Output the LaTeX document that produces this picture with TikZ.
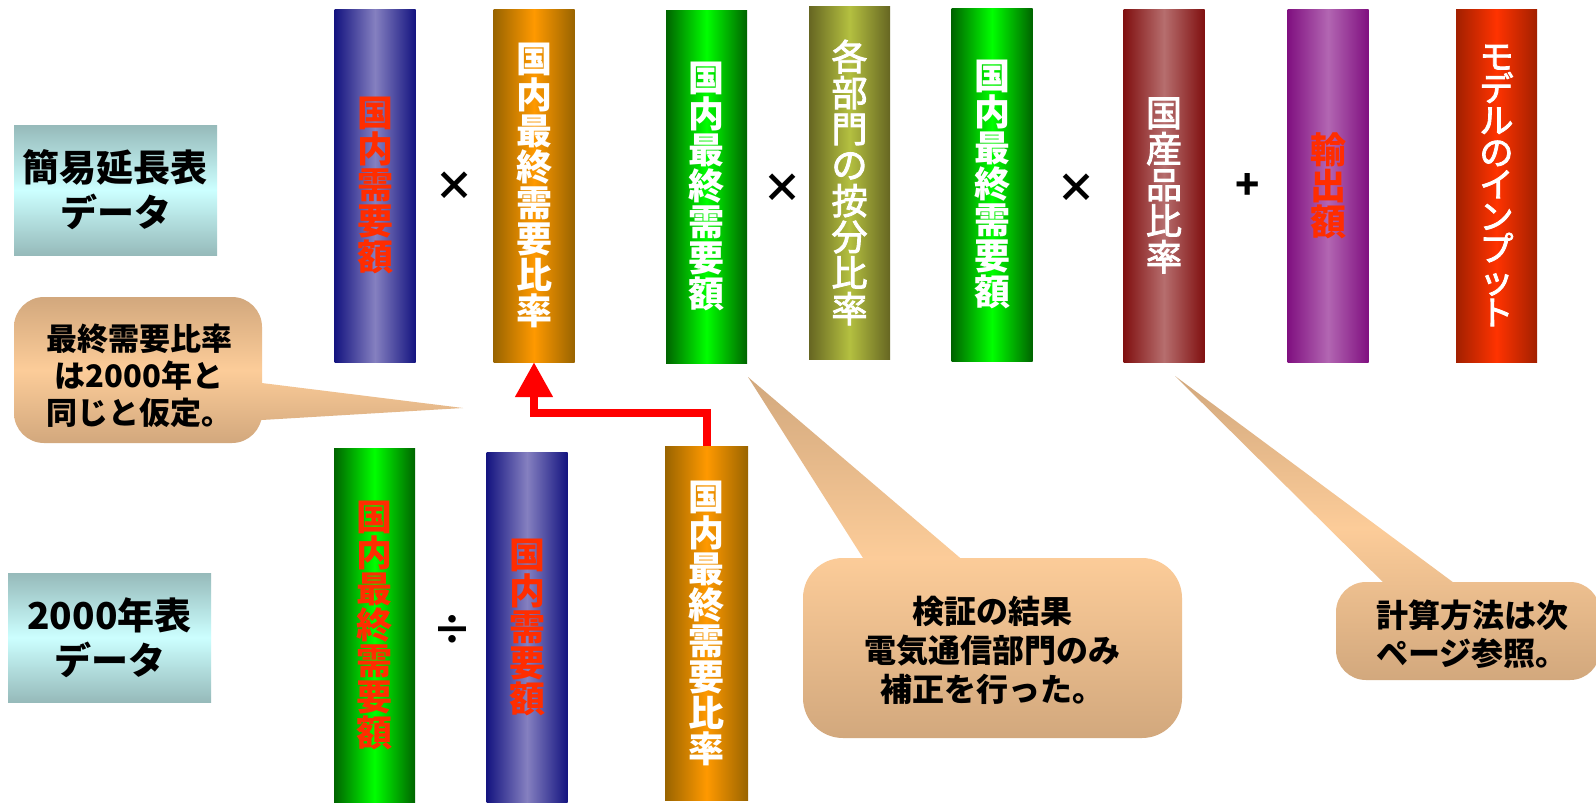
\documentclass[tikz,border=0pt]{standalone}
\usepackage{fontspec}
\newfontfamily\jp{Noto Sans CJK JP}
\newfontfamily\jpm{Noto Sans CJK JP}[FakeBold=2.5]
\usetikzlibrary{arrows.meta}
\definecolor{navyE}{RGB}{20,20,128}
\definecolor{navyC}{RGB}{133,128,192}
\definecolor{orgE}{RGB}{153,100,0}
\definecolor{orgC}{RGB}{255,153,0}
\definecolor{grnE}{RGB}{0,100,0}
\definecolor{grnC}{RGB}{0,255,0}
\definecolor{olvE}{RGB}{102,102,34}
\definecolor{olvC}{RGB}{180,192,64}
\definecolor{brnE}{RGB}{128,16,16}
\definecolor{brnC}{RGB}{182,110,110}
\definecolor{purE}{RGB}{128,16,128}
\definecolor{purC}{RGB}{178,102,178}
\definecolor{redE}{RGB}{162,32,0}
\definecolor{redC}{RGB}{255,51,0}
\definecolor{tealE}{RGB}{150,186,186}
\definecolor{tealC}{RGB}{204,255,255}
\definecolor{tanE}{RGB}{210,168,125}
\definecolor{tanC}{RGB}{252,204,153}
\definecolor{txtred}{RGB}{255,45,0}
\begin{document}
\begin{tikzpicture}[x=1pt,y=-1pt,
  col/.style={minimum width=81pt, minimum height=353pt, inner sep=0pt, align=center,
    font=\jp\bfseries\fontsize{36}{36}\selectfont, text=white},
  colmed/.style={font=\jpm\fontsize{36}{36}\selectfont},
  shblue/.style={left color=navyE, right color=navyE, middle color=navyC},
  shorange/.style={left color=orgE, right color=orgE, middle color=orgC},
  shgreen/.style={left color=grnE, right color=grnE, middle color=grnC},
  sholive/.style={left color=olvE, right color=olvE, middle color=olvC},
  shbrown/.style={left color=brnE, right color=brnE, middle color=brnC},
  shpurple/.style={left color=purE, right color=purE, middle color=purC},
  shred/.style={left color=redE, right color=redE, middle color=redC},
  databox/.style={minimum width=203pt, minimum height=130pt, inner sep=0pt, align=center,
    top color=tealE, bottom color=tealE, middle color=tealC,
    font=\jp\bfseries\fontsize{37}{45}\selectfont},
  opsym/.style={inner sep=0pt, font=\jp\bfseries\fontsize{40}{40}\selectfont},
  callout/.style={top color=tanE, bottom color=tanE, middle color=tanC},
  callouttext/.style={align=center, inner sep=0pt, font=\jp\bfseries\fontsize{32}{39}\selectfont},
  redarrow/.style={draw=red, line width=8pt, -{Triangle[width=36pt,length=35pt,fill=red]}}
]
\useasboundingbox (0,0) rectangle (1596,803);
\fill[white] (0,0) rectangle (1596,803);

% data boxes
\node[databox] (d1) at (115.5,190) {簡易延長表\\データ};
\node[databox, minimum height=129pt] (d2) at (109.5,637.5) {2000年表\\データ};

% top row columns
\node[col, shblue, text=txtred] (c1) at (375,185.5) {国\\内\\需\\要\\額};
\node[col, shorange] (c2) at (534,185.5) {国\\内\\最\\終\\需\\要\\比\\率};
\node[col, shgreen] (c3) at (706.5,186.5) {国\\内\\最\\終\\需\\要\\額};
\node[col, colmed, sholive] (c4) at (849.5,182.5) {各\\部\\門\\の\\按\\分\\比\\率};
\node[col, shgreen] (c5) at (992,184.5) {国\\内\\最\\終\\需\\要\\額};
\node[col, colmed, shbrown] (c6) at (1164,185.5) {国\\産\\品\\比\\率};
\node[col, shpurple, text=txtred] (c7) at (1328,185.5) {輸\\出\\額};
\node[col, shred, font=\jpm\fontsize{34}{32}\selectfont] (c8) at (1496.5,185.5) {モ\\デ\\ル\\の\\イ\\ン\\プ\\ッ\\ト};

% operators
\node[opsym] (m1) at (454,186) {×};
\node[opsym] (m2) at (782,188) {×};
\node[opsym] (m3) at (1076,188) {×};
\node[opsym] (p1) at (1248,186) {+};

% bottom row columns
\node[col, shgreen, text=txtred, minimum height=355pt] (b1) at (374.5,625.5) {国\\内\\最\\終\\需\\要\\額};
\node[opsym] (dv) at (452,630) {÷};
\node[col, shblue, text=txtred, minimum height=351pt] (b2) at (527,627.5) {国\\内\\需\\要\\額};
\node[col, shorange, minimum width=83pt, minimum height=354pt] (b3) at (706.5,623) {国\\内\\最\\終\\需\\要\\比\\率};

% red arrow
\draw[redarrow] (b3.north) -- ++(0,-32.5) -| (c2.south);

% callouts
\shade[callout, rounded corners=30pt] (14,297) -- (14,443) -- (262,443) -- (262,297) -- cycle
  [sharp corners] (240,380.3) -- (240,421.3) -- (463,408) -- cycle;
\node[callouttext, font=\jp\bfseries\fontsize{31}{37}\selectfont] (t1) at (139,376) {最終需要比率\\は2000年と\\同じと仮定。};

\shade[callout, rounded corners=40pt] (803,558) -- (803,738) -- (1182,738) -- (1182,558) -- cycle
  [sharp corners] (877,580) -- (986,580) -- (748,377) -- cycle;
\node[callouttext] (t2) at (992,650) {検証の結果\\電気通信部門のみ\\補正を行った。};

\shade[callout, rounded corners=30pt] (1336,582) -- (1336,680) -- (1600,680) -- (1600,582) -- cycle
  [sharp corners] (1401,600) -- (1477,600) -- (1175,376) -- cycle;
\node[callouttext, font=\jp\bfseries\fontsize{32}{38}\selectfont] (t3) at (1472,634) {計算方法は次\\ページ参照。};
\end{tikzpicture}
\end{document}
